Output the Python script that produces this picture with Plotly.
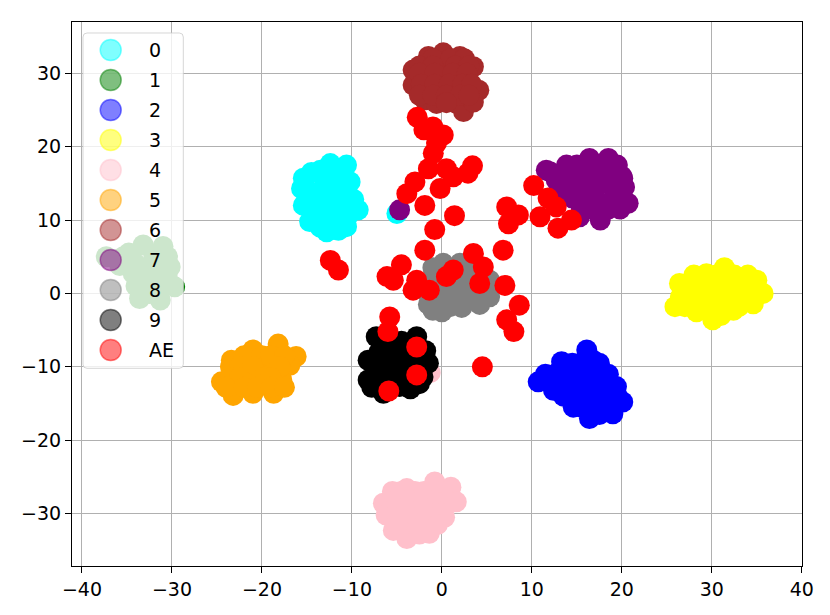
import plotly.graph_objects as go

# ---- data (t-SNE embedding) ----------------------------------------------
CLASS_NAMES = ["0", "1", "2", "3", "4", "5", "6", "7", "8", "9", "AE"]
CLASS_COLORS = ["#00ffff", "#008000", "#0000ff", "#ffff00", "#ffc0cb", "#ffa500",
                "#a52a2a", "#800080", "#808080", "#000000", "#ff0000"]

c0_x = [-15.4, -12.4, -10.6, -10.2, -9.3, -10.6, -12.8, -14.7, -15.4, -13.2, -12.4, -13.9, -11.3, -11.8,
        -14.5, -13.5, -11.5, -14.8, -12.0, -10.8, -14.0, -12.0, -10.5, -13.5, -11.5, -9.8, -15.0, -13.0,
        -11.0, -15.6, -5.0]
c0_y = [15.7, 17.7, 17.5, 15.2, 11.4, 9.1, 8.4, 9.8, 12.0, 11.8, 14.5, 13.6, 11.8, 16.2,
        16.5, 16.8, 16.5, 14.0, 13.0, 13.3, 11.0, 10.0, 10.5, 9.0, 8.6, 12.8, 13.0, 15.0,
        14.5, 14.3, 10.9]

c1_x = [-37.3, -33.2, -31.0, -30.2, -29.7, -31.3, -33.6, -34.3, -35.4, -32.4, -32.0, -30.8,
        -36.0, -34.8, -34.0, -32.0, -30.5, -33.0, -31.5, -34.0, -32.5, -30.5, -35.8]
c1_y = [5.0, 6.6, 6.4, 3.6, 0.9, -0.9, -0.7, 2.7, 5.0, 3.6, 1.2, 1.5,
        4.6, 5.5, 4.0, 5.0, 5.0, 2.0, 2.5, 1.0, 0.0, 2.0, 3.8]

c2_x = [16.1, 13.3, 16.8, 10.7, 12.4, 14.6, 16.4, 19.0, 20.1, 19.4, 17.9, 15.3, 12.7, 17.2, 14.8,
        14.5, 15.5, 17.5, 11.5, 14.0, 15.5, 16.8, 18.5, 13.5, 14.5, 16.5, 18.0,
        13.5, 15.5, 16.5, 18.5, 19.5, 15.5, 17.5, 18.5, 17.5]
c2_y = [-7.7, -9.3, -9.1, -12.05, -13.2, -15.5, -17.05, -16.4, -14.8, -12.7, -11.4, -12.3, -10.9, -14.5, -10.5,
        -9.5, -9.5, -9.5, -11.0, -11.0, -11.0, -11.0, -11.0, -12.5, -12.5, -12.5, -12.5,
        -14.0, -14.0, -14.0, -14.0, -14.0, -15.5, -15.5, -15.5, -16.5]

c3_x = [25.9, 26.4, 29.4, 31.4, 35.0, 35.7, 34.6, 32.4, 30.1, 28.3, 30.9, 32.7, 27.9,
        28.0, 30.5, 32.5, 34.0, 27.5, 29.0, 30.5, 31.5, 33.5, 34.5, 26.5, 29.0, 31.5, 33.5,
        27.0, 29.3, 31.0, 33.0, 31.0]
c3_y = [-1.8, 1.36, 2.7, 3.5, 1.8, 0.0, -1.4, -2.3, -3.6, -2.5, 0.0, 1.36, 0.0,
        2.5, 2.5, 2.5, 2.5, 1.0, 1.0, 1.0, 1.0, 1.0, 1.0, -0.5, -0.5, -0.5, -0.5,
        -1.8, -1.8, -1.8, -1.8, -3.0]

c4_x = [-6.5, -3.9, -0.8, 1.0, 1.6, 0.3, -1.4, -3.9, -5.4, -6.2, -2.8, -1.7, -3.6,
        -5.5, -4.5, -3.0, -2.0, 0.0, -5.0, -3.5, -2.0, -0.5, 1.0, -5.0, -4.0, -1.5, 0.0,
        -5.0, -2.0, -0.5, -2.5, -1.3]
c4_y = [-28.6, -26.6, -25.7, -26.4, -28.4, -30.5, -32.7, -33.4, -32.3, -30.2, -29.5, -27.7, -31.4,
        -27.0, -27.0, -27.0, -27.0, -27.0, -28.5, -28.5, -28.5, -28.5, -28.5, -30.0, -30.0, -30.0, -30.0,
        -31.5, -31.5, -31.5, -32.8, -10.8]

c5_x = [-18.2, -16.2, -21.0, -23.4, -24.5, -23.2, -21.0, -18.7, -17.8, -16.9, -21.3, -19.5,
        -22.0, -20.0, -19.0, -17.5, -23.5, -22.5, -21.0, -18.0, -23.5, -22.5, -20.0, -19.0,
        -24.0, -22.0, -20.5, -19.0, -17.5]
c5_y = [-6.9, -8.6, -7.7, -9.1, -12.05, -13.9, -13.6, -13.6, -11.8, -9.8, -10.9, -10.0,
        -8.5, -8.5, -8.5, -8.5, -10.0, -10.0, -10.0, -10.0, -11.5, -11.5, -11.5, -11.5,
        -12.8, -12.8, -12.8, -12.8, -12.8]

c6_x = [0.15, -1.5, -3.2, -3.2, -1.9, -0.6, 1.6, 2.4, 3.5, 2.0, 4.1, 3.5, 0.15, 2.0, -1.7, 0.5,
        -1.0, 1.0, 2.5, -2.5, -1.0, 1.5, 3.0, -2.5, -0.8, 1.2, 2.8, -2.3, -0.8, 0.8, 2.3, 3.3,
        -2.5, -1.0, 0.5, 2.0, 3.0, 0.5]
c6_y = [32.8, 32.3, 30.45, 28.4, 26.4, 25.9, 25.9, 24.8, 30.9, 32.3, 27.7, 26.1, 29.5, 29.5, 29.5, 30.9,
        32.0, 32.0, 32.0, 31.0, 31.0, 31.0, 31.0, 30.0, 30.0, 30.0, 30.0, 28.5, 28.5, 28.5, 28.5, 28.5,
        27.0, 27.0, 27.0, 27.0, 27.0, 26.0]

c7_x = [12.0, 13.85, 16.4, 18.5, 20.1, 20.7, 17.6, 15.3, 15.7, 17.9, 18.3, 13.5, 12.7, 11.6,
        15.0, 16.5, 17.5, 19.5, 13.0, 14.5, 16.0, 17.0, 19.0, 20.0, 14.5, 16.5, 19.0, 20.3,
        14.5, 16.0, 17.0, 19.5, 15.5, 16.8, 18.5, 19.8, -4.7]
c7_y = [16.6, 17.5, 18.4, 18.4, 15.7, 12.3, 10.0, 10.45, 14.1, 15.0, 12.3, 14.1, 15.45, 16.8,
        17.5, 17.5, 17.5, 17.5, 16.0, 16.0, 16.0, 16.0, 16.0, 16.0, 14.5, 14.5, 14.5, 14.5,
        13.0, 13.0, 13.0, 13.0, 11.5, 11.5, 11.5, 11.5, 11.4]

c8_x = [0.15, 2.0, -1.0, 0.9, 2.4, 5.3, -1.15, 3.1, 5.3, -1.0, 0.9, 1.5, 3.5,
        -1.0, 1.0, 3.0, 4.0, -2.0, -0.2, 1.5, 4.2, 0.0, 2.2, 4.2, -1.5, 0.0]
c8_y = [4.1, 4.1, 1.8, 1.4, 1.8, 1.8, -0.45, -0.9, -0.45, -2.3, -1.8, 0.5, 1.0,
        3.5, 3.0, 3.0, 2.0, 0.5, 0.0, -0.5, 0.2, -2.5, -1.9, -1.5, -1.5, 1.0]

c9_x = [-7.3, -2.8, -8.2, -8.2, -6.5, -4.7, -1.5, -2.1, -5.0, -6.1, -3.6, -7.0,
        -6.0, -4.5, -3.5, -7.0, -5.5, -4.0, -3.0, -7.2, -5.5, -4.0, -3.5, -7.8, -2.5, -1.8]
c9_y = [-5.9, -5.9, -9.1, -11.8, -13.6, -12.7, -9.5, -11.4, -8.2, -10.45, -8.2, -8.0,
        -6.5, -6.5, -7.0, -9.5, -9.8, -10.0, -9.5, -11.5, -11.5, -11.5, -13.0, -12.8, -12.3, -7.8]

ae_x = [-2.74, -1.0, 0.15, -2.0, -0.96, -0.6, -1.5, 0.5, 3.4, 2.9, 1.26, -0.2, -3.0, -3.9,
        -1.9, 1.4, -0.8, -1.9, -12.4, -11.5, -6.1, -4.5, -5.4, -2.8, -3.2, -1.4, 0.5, 1.26,
        3.5, 4.6, 6.8, 4.2, 7.0, 8.6, 7.2, 8.0, -5.8, -6.0, -2.8, -2.8, -5.9, 4.5,
        7.2, 8.5, 7.4, 10.2, 11.8, 10.9, 12.7, 14.4, 12.9]
ae_y = [24.0, 22.7, 21.6, 22.3, 19.1, 20.5, 17.0, 17.0, 17.4, 16.4, 15.9, 14.3, 15.2, 13.6,
        12.0, 10.6, 8.7, 5.9, 4.5, 3.2, 2.3, 3.9, 1.8, 1.8, 0.45, 0.45, 2.3, 3.2,
        5.45, 3.6, 5.9, 1.36, 1.1, -1.6, -3.6, -5.2, -3.2, -5.2, -7.3, -11.1, -13.3, -10.0,
        11.8, 10.7, 9.5, 14.7, 13.0, 10.45, 11.8, 10.0, 8.9]

XS = [c0_x, c1_x, c2_x, c3_x, c4_x, c5_x, c6_x, c7_x, c8_x, c9_x, ae_x]
YS = [c0_y, c1_y, c2_y, c3_y, c4_y, c5_y, c6_y, c7_y, c8_y, c9_y, ae_y]

X_TICKS = [-40, -30, -20, -10, 0, 10, 20, 30, 40]
Y_TICKS = [-30, -20, -10, 0, 10, 20, 30]

# ---- geometry ------------------------------------------------------------
W, H = 830, 615
ML, MR, MT, MB = 72, 28, 22, 49
PW, PH = W - ML - MR, H - MT - MB
FONT = dict(family="DejaVu Sans, sans-serif", size=19, color="black")


def px(x):
    return (x - ML) / PW


def py(y):
    return (H - MB - y) / PH


def rgba(hex_color, a):
    h = hex_color.lstrip("#")
    r, g, b = int(h[0:2], 16), int(h[2:4], 16), int(h[4:6], 16)
    return f"rgba({r},{g},{b},{a})"


fig = go.Figure()
for name, col, xs, ys in zip(CLASS_NAMES, CLASS_COLORS, XS, YS):
    fig.add_trace(go.Scatter(
        x=xs, y=ys, mode="markers", name=name, showlegend=False,
        marker=dict(size=21, color=col, line=dict(width=0)),
    ))

# ---- hand-built legend (matplotlib look) ---------------------------------
shapes = []
l, r, t, b, rad = 83, 183.3, 33, 368.3, 4
path = (f"M {px(l + rad)},{py(t)} L {px(r - rad)},{py(t)} Q {px(r)},{py(t)} {px(r)},{py(t + rad)} "
        f"L {px(r)},{py(b - rad)} Q {px(r)},{py(b)} {px(r - rad)},{py(b)} "
        f"L {px(l + rad)},{py(b)} Q {px(l)},{py(b)} {px(l)},{py(b - rad)} "
        f"L {px(l)},{py(t + rad)} Q {px(l)},{py(t)} {px(l + rad)},{py(t)} Z")
shapes.append(dict(type="path", path=path, xref="paper", yref="paper", layer="above",
                   fillcolor="rgba(255,255,255,0.8)", line=dict(color="rgba(204,204,204,0.8)", width=1)))
annotations = []
for i, (name, col) in enumerate(zip(CLASS_NAMES, CLASS_COLORS)):
    cy = 50 + 30 * i
    shapes.append(dict(type="circle", xref="paper", yref="paper", layer="above",
                       xsizemode="pixel", ysizemode="pixel",
                       xanchor=px(110.7), yanchor=py(cy), x0=-10.5, x1=10.5, y0=-10.5, y1=10.5,
                       fillcolor=rgba(col, 0.5), line=dict(color=rgba(col, 0.5), width=1.5)))
    annotations.append(dict(text=name, x=px(147), y=py(cy), xref="paper", yref="paper",
                            xanchor="left", yanchor="middle", showarrow=False, font=FONT))

fig.update_layout(
    width=W, height=H,
    margin=dict(l=ML, r=MR, t=MT, b=MB),
    plot_bgcolor="white", paper_bgcolor="white",
    font=FONT, showlegend=False,
    shapes=shapes, annotations=annotations,
)
axis_style = dict(showgrid=True, gridcolor="#b0b0b0", gridwidth=1, zeroline=False,
                  showline=True, linecolor="black", linewidth=1, mirror=True,
                  ticks="outside", ticklen=6, tickcolor="black", tickwidth=1,
                  layer="above traces", tickfont=FONT)
fig.update_xaxes(range=[-41.11, 40.02], tickvals=X_TICKS, **axis_style)
fig.update_yaxes(range=[-37.15, 37.0], tickvals=Y_TICKS, **axis_style)

# page body has a default 8px margin; drop it so the figure sits at 0,0
fig.write_html("out.html", config={"displayModeBar": False},
               post_script="document.body.style.margin='0';")
